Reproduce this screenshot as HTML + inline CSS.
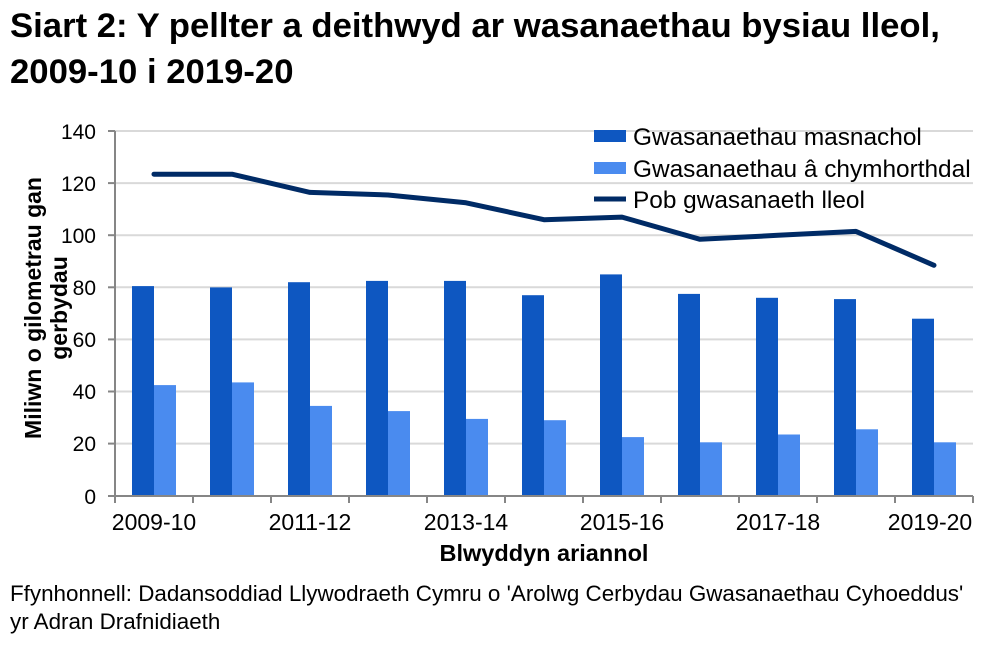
<!DOCTYPE html>
<html><head><meta charset="utf-8"><style>
body{margin:0;background:#fff;width:994px;height:650px;overflow:hidden;font-family:"Liberation Sans",Arial,sans-serif}
</style></head><body>
<svg width="994" height="650" xmlns="http://www.w3.org/2000/svg" font-family="Liberation Sans, Arial, sans-serif">
<text x="10" y="37" font-size="34.7" font-weight="bold">Siart 2: Y pellter a deithwyd ar wasanaethau bysiau lleol,</text>
<text x="10" y="83" font-size="34.7" font-weight="bold">2009-10 i 2019-20</text>
<g stroke="#D9D9D9" stroke-width="2">
<line x1="115" x2="973" y1="131" y2="131"/><line x1="115" x2="973" y1="183.1" y2="183.1"/><line x1="115" x2="973" y1="235.2" y2="235.2"/><line x1="115" x2="973" y1="287.3" y2="287.3"/><line x1="115" x2="973" y1="339.4" y2="339.4"/><line x1="115" x2="973" y1="391.5" y2="391.5"/><line x1="115" x2="973" y1="443.6" y2="443.6"/>
</g>
<g fill="#0E57C1">
<rect x="132" y="286.1" width="22" height="209.6"/>
<rect x="210" y="287.4" width="22" height="208.3"/>
<rect x="288" y="282.2" width="22" height="213.5"/>
<rect x="366" y="280.9" width="22" height="214.8"/>
<rect x="444" y="280.9" width="22" height="214.8"/>
<rect x="522" y="295.2" width="22" height="200.5"/>
<rect x="600" y="274.4" width="22" height="221.3"/>
<rect x="678" y="293.9" width="22" height="201.8"/>
<rect x="756" y="297.8" width="22" height="197.9"/>
<rect x="834" y="299.1" width="22" height="196.6"/>
<rect x="912" y="318.7" width="22" height="177"/>
</g>
<g fill="#4A8BEF">
<rect x="154" y="385.1" width="22" height="110.6"/>
<rect x="232" y="382.4" width="22" height="113.3"/>
<rect x="310" y="405.9" width="22" height="89.8"/>
<rect x="388" y="411.1" width="22" height="84.6"/>
<rect x="466" y="418.9" width="22" height="76.8"/>
<rect x="544" y="420.2" width="22" height="75.5"/>
<rect x="622" y="437.1" width="22" height="58.6"/>
<rect x="700" y="442.3" width="22" height="53.4"/>
<rect x="778" y="434.5" width="22" height="61.2"/>
<rect x="856" y="429.3" width="22" height="66.4"/>
<rect x="934" y="442.3" width="22" height="53.4"/>
</g>
<polyline points="154,174.2 232,174.2 310,192.4 388,195 466,202.8 544,219.7 622,217.1 700,239.3 778,235.3 856,231.4 934,265.3" fill="none" stroke="#002B66" stroke-width="5" stroke-linejoin="round" stroke-linecap="round"/>
<g stroke="#868686" stroke-width="2">
<line x1="115" x2="115" y1="131" y2="496"/><line x1="115" x2="973" y1="496" y2="496"/>
<line x1="108" x2="115" y1="131" y2="131"/><line x1="108" x2="115" y1="183.1" y2="183.1"/><line x1="108" x2="115" y1="235.2" y2="235.2"/><line x1="108" x2="115" y1="287.3" y2="287.3"/><line x1="108" x2="115" y1="339.4" y2="339.4"/><line x1="108" x2="115" y1="391.5" y2="391.5"/><line x1="108" x2="115" y1="443.6" y2="443.6"/><line x1="108" x2="115" y1="496" y2="496"/>
<line x1="115" x2="115" y1="496" y2="503"/><line x1="193" x2="193" y1="496" y2="503"/><line x1="271" x2="271" y1="496" y2="503"/><line x1="349" x2="349" y1="496" y2="503"/><line x1="427" x2="427" y1="496" y2="503"/><line x1="505" x2="505" y1="496" y2="503"/><line x1="583" x2="583" y1="496" y2="503"/><line x1="661" x2="661" y1="496" y2="503"/><line x1="739" x2="739" y1="496" y2="503"/><line x1="817" x2="817" y1="496" y2="503"/><line x1="895" x2="895" y1="496" y2="503"/><line x1="973" x2="973" y1="496" y2="503"/>
</g>
<g font-size="21" text-anchor="end" fill="#000">
<text x="96" y="139">140</text><text x="96" y="191">120</text><text x="96" y="243">100</text><text x="96" y="295">80</text><text x="96" y="347">60</text><text x="96" y="399">40</text><text x="96" y="451">20</text><text x="96" y="504">0</text>
</g>
<g font-size="23" text-anchor="middle">
<text x="154" y="530">2009-10</text><text x="310" y="530">2011-12</text><text x="466" y="530">2013-14</text><text x="622" y="530">2015-16</text><text x="778" y="530">2017-18</text><text x="930" y="530">2019-20</text>
</g>
<text x="544" y="561" font-size="23.5" font-weight="bold" text-anchor="middle">Blwyddyn ariannol</text>
<text transform="translate(41,308) rotate(-90)" font-size="23" font-weight="bold" text-anchor="middle">Miliwn o gilometrau gan</text>
<text transform="translate(67,308) rotate(-90)" font-size="23" font-weight="bold" text-anchor="middle">gerbydau</text>
<rect x="594" y="130" width="32" height="12" fill="#0E57C1"/>
<text x="633" y="145" font-size="24.4">Gwasanaethau masnachol</text>
<rect x="594" y="162" width="32" height="12" fill="#4A8BEF"/>
<text x="633" y="177" font-size="24.4">Gwasanaethau â chymhorthdal</text>
<line x1="594" x2="626" y1="199" y2="199" stroke="#002B66" stroke-width="5"/>
<text x="633" y="208" font-size="24.4">Pob gwasanaeth lleol</text>
<text x="10" y="601" font-size="22.4">Ffynhonnell: Dadansoddiad Llywodraeth Cymru o 'Arolwg Cerbydau Gwasanaethau Cyhoeddus'</text>
<text x="10" y="629" font-size="22.4">yr Adran Drafnidiaeth</text>
</svg>
</body></html>
